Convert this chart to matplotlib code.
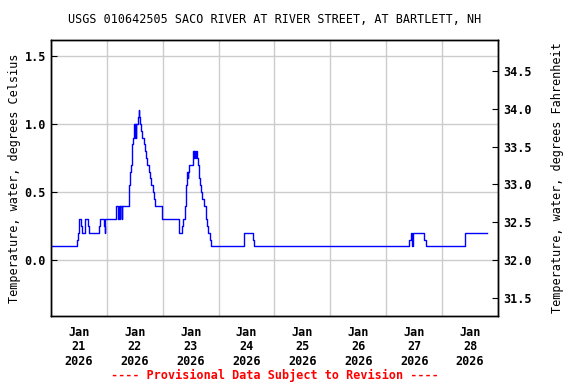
import matplotlib
matplotlib.use("Agg")
import matplotlib.pyplot as plt
import matplotlib.dates as mdates
from datetime import datetime, timedelta

# hours after 2026-01-21 00:00 where the reading changes, and the reading (deg C)
hours = [0, 11.0, 11.43, 11.86, 12.86, 13.14, 14.57, 16.0, 16.4, 20.7, 21.1,
         22.7, 23.0, 23.4, 28.0, 28.9, 29.1, 29.6, 29.8, 30.3, 30.6,
         33.57, 34.0, 34.43, 34.86, 35.29, 35.71, 36.0, 36.2, 36.5, 36.7,
         37.43, 37.7, 37.86, 38.43, 38.86, 39.29, 40.0, 40.43, 40.86, 41.29,
         42.14, 42.57, 43.0, 43.86, 44.29, 44.71, 47.71, 55.0, 56.29, 56.71,
         57.57, 58.0, 58.43, 58.7, 58.9, 59.29, 61.0, 61.3, 61.6, 62.0, 62.3,
         62.71, 63.14, 63.57, 64.0, 64.43, 64.86, 65.71, 66.57, 67.0, 67.43,
         68.29, 68.71, 82.86, 86.7, 87.3, 153.9, 154.6, 155.0, 155.3, 160.3,
         160.9, 177.7, 187.1]
temp_c = [0.1, 0.15, 0.2, 0.3, 0.25, 0.2, 0.3, 0.25, 0.2, 0.25, 0.3,
          0.25, 0.2, 0.3, 0.4, 0.3, 0.4, 0.3, 0.4, 0.3, 0.4,
          0.55, 0.65, 0.7, 0.85, 0.9, 1.0, 0.9, 1.0, 0.9, 1.0,
          1.05, 1.1, 1.05, 1.0, 0.95, 0.9, 0.85, 0.8, 0.75, 0.7,
          0.65, 0.6, 0.55, 0.5, 0.45, 0.4, 0.3, 0.2, 0.25, 0.3,
          0.4, 0.55, 0.65, 0.6, 0.65, 0.7, 0.8, 0.75, 0.8, 0.75, 0.8,
          0.75, 0.7, 0.6, 0.55, 0.5, 0.45, 0.4, 0.3, 0.25, 0.2,
          0.15, 0.1, 0.2, 0.15, 0.1, 0.15, 0.2, 0.1, 0.2, 0.15,
          0.1, 0.2, 0.2]

start = datetime(2026, 1, 21)
times = [start + timedelta(hours=h) for h in hours]

plt.rcParams['font.family'] = 'DejaVu Sans Mono'
plt.rcParams['font.weight'] = 'bold'
plt.rcParams['font.size'] = 8.5

fig = plt.figure(figsize=(5.76, 3.84), dpi=100)
ax = fig.add_axes([0.0885, 0.177, 0.776, 0.719])

ax.plot(times, temp_c, color='#0000ff', linewidth=1, drawstyle='steps-post', zorder=3)

cmin, cmax = -0.412, 1.618
ax.set_ylim(cmin, cmax)
ax.set_xlim(start, start + timedelta(days=8))
ax.set_yticks([0.0, 0.5, 1.0, 1.5])
ax.set_yticklabels(['0.0', '0.5', '1.0', '1.5'])

ax.xaxis.set_major_locator(mdates.HourLocator(byhour=[12]))
ax.xaxis.set_major_formatter(mdates.DateFormatter('%b\n%d\n%Y'))
ax.xaxis.set_minor_locator(mdates.DayLocator())
ax.tick_params(axis='x', which='major', length=0, pad=7)
ax.tick_params(axis='x', which='minor', length=0)
ax.tick_params(axis='y', direction='in', length=4)
ax.grid(True, which='minor', axis='x', color='#cccccc', linewidth=1)
ax.grid(True, which='major', axis='y', color='#cccccc', linewidth=1)
ax.set_axisbelow(True)
for lbl in ax.get_xticklabels():
    lbl.set_linespacing(1.15)

ax.set_ylabel('Temperature, water, degrees Celsius', labelpad=3)

ax2 = ax.twinx()
ax2.set_ylim(32 + 1.8 * cmin, 32 + 1.8 * cmax)
ax2.set_yticks([31.5, 32.0, 32.5, 33.0, 33.5, 34.0, 34.5])
ax2.set_yticklabels(['31.5', '32.0', '32.5', '33.0', '33.5', '34.0', '34.5'])
ax2.tick_params(axis='y', direction='in', length=4)
ax2.set_ylabel('Temperature, water, degrees Fahrenheit', labelpad=14)

for a in (ax, ax2):
    for s in a.spines.values():
        s.set_linewidth(1)

ax.set_title('USGS 010642505 SACO RIVER AT RIVER STREET, AT BARTLETT, NH',
             fontsize=8.5, pad=12)
fig.text(0.477, 0.012, '---- Provisional Data Subject to Revision ----',
         color='red', ha='center', fontsize=8.5)

fig.savefig('out.png', dpi=100)
